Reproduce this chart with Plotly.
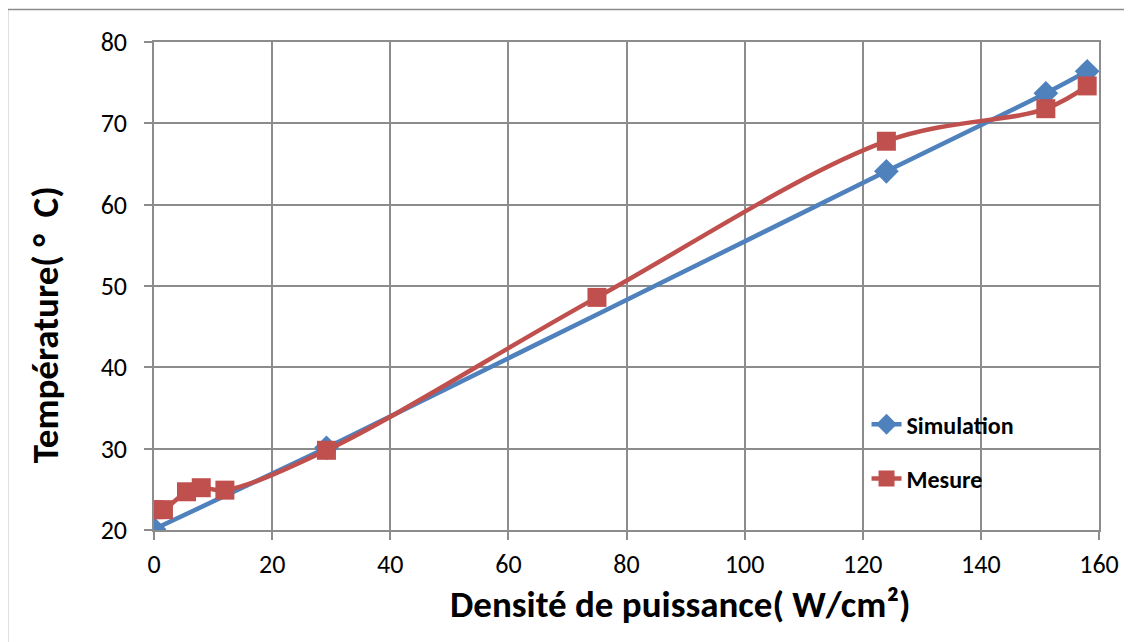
import plotly.graph_objects as go

# data
sim_x = [0, 29.2, 124, 151, 158]
sim_y = [20.1, 30.1, 64.1, 73.7, 76.4]

mes_x = [0, 1.6, 5.5, 8, 12, 29.2, 75, 124, 151, 158]
mes_y = [22.5, 22.5, 24.7, 25.2, 24.9, 29.8, 48.6, 67.8, 71.8, 74.6]

x_ticks = [0, 20, 40, 60, 80, 100, 120, 140, 160]
y_ticks = [20, 30, 40, 50, 60, 70, 80]

FONT = "Calibri, Carlito, Lato, sans-serif"
GRID = "#8c8c8c"

fig = go.Figure()

fig.add_trace(go.Scatter(
    x=sim_x, y=sim_y, name="Simulation", legendgroup="a",
    mode="lines+markers",
    line=dict(color="#4F81BD", width=4.5, shape="spline", smoothing=0.6),
    marker=dict(symbol="diamond", size=19, color="#4F81BD"),
))
fig.add_trace(go.Scatter(
    x=mes_x, y=mes_y, name="Mesure", legendgroup="b",
    mode="lines+markers",
    line=dict(color="#C0504D", width=4.5, shape="spline", smoothing=1.0),
    marker=dict(symbol="square", size=19, color="#C0504D"),
))

fig.update_xaxes(
    range=[0, 160], tickvals=x_ticks, showgrid=True, gridcolor=GRID, gridwidth=1.5,
    showline=True, linecolor=GRID, linewidth=1.5, mirror=True,
    ticks="outside", ticklen=8, tickcolor=GRID, tickwidth=1.5, ticklabelstandoff=2,
    tickfont=dict(size=26, color="black", family=FONT), zeroline=False,
)
fig.update_yaxes(
    range=[20, 80], tickvals=y_ticks, showgrid=True, gridcolor=GRID, gridwidth=1.5,
    showline=True, linecolor=GRID, linewidth=1.5, mirror=True,
    ticks="outside", ticklen=8, tickcolor=GRID, tickwidth=1.5, ticklabelstandoff=12,
    tickfont=dict(size=26, color="black", family=FONT), zeroline=False,
)

# axis titles (placed like the Excel chart, not centred on the plot)
fig.add_annotation(text="Densité de puissance( W/cm²)", xref="paper", yref="paper",
                   x=0.557, y=-0.153, xanchor="center", yanchor="middle", showarrow=False,
                   font=dict(size=37, color="black", family=FONT, weight="bold"))
fig.add_annotation(text="Température( °  C)", xref="paper", yref="paper",
                   x=-0.115, y=0.42, xanchor="center", yanchor="middle", showarrow=False,
                   textangle=-90,
                   font=dict(size=37, color="black", family=FONT, weight="bold"))

# outer chart frame
fig.add_shape(type="rect", xref="paper", yref="paper",
              x0=-0.155, x1=1.03, y0=-0.26, y1=1.0665,
              line=dict(color="#8c8c8c", width=1.5))

fig.update_layout(
    width=1132, height=642,
    margin=dict(l=146, r=41, t=34, b=120),
    plot_bgcolor="white", paper_bgcolor="white",
    font=dict(family=FONT),
    legend=dict(x=0.754, y=0.262, xanchor="left", yanchor="top",
                bgcolor="rgba(0,0,0,0)", tracegroupgap=20,
                font=dict(size=24, color="black", family=FONT, weight="bold")),
)

fig.write_html("out.html")
